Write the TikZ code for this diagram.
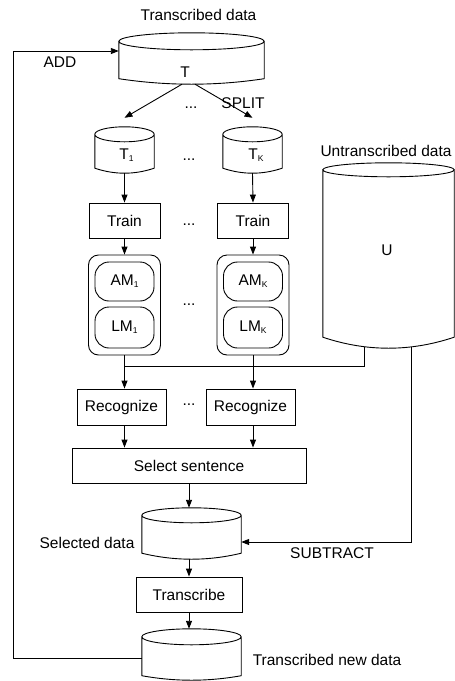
\documentclass[tikz,border=0pt]{standalone}
\usepackage{fontspec}
\setmainfont{Liberation Sans}
\usetikzlibrary{arrows.meta,calc}

% small lowered index, e.g. T_1, AM_K
\newcommand\lowidx[1]{\raisebox{-2.2pt}{\fontsize{8.5}{9}\selectfont #1}}

% outline of a database cylinder drawn over the rectangle node #1:
% #2 = half height of the top ellipse, #3 = rise of the bottom arc corners
\newcommand\dbshape[3]{%
  \draw[wire] let \p1=(#1.north west), \p2=(#1.south east), \n1={(\x2-\x1)/2} in
    (\x1,\y1-#2pt) -- (\x1,\y2+#3pt)
    .. controls ({\x1+\n1*2/3},{\y2-#3pt/3}) and ({\x2-\n1*2/3},{\y2-#3pt/3}) .. (\x2,\y2+#3pt)
    -- (\x2,\y1-#2pt)
    (\x1+\n1,\y1-#2pt) ellipse [x radius=\n1, y radius=#2pt];
}

\tikzset{
  every node/.style={font=\fontsize{15.5}{18}\selectfont},
  wire/.style={line width=0.9pt},
  box/.style={draw, rectangle, inner sep=0pt, line width=0.9pt},
  rbox/.style={draw, rectangle, rounded corners=#1, inner sep=0pt, line width=0.9pt},
  db/.style={rectangle, draw=none, inner sep=0pt},
  arr/.style={-{Triangle[length=8pt,width=6pt]}, line width=0.9pt},
  dots/.style={inner sep=0pt},
}

\begin{document}
\begin{tikzpicture}[x=1pt,y=-1pt]
\useasboundingbox (0,0) rectangle (455,681);

% ---- data stores ----
\node[db, minimum width=145pt, minimum height=51pt] (T)  at (191.5,58.5) {};
\node[db, minimum width=59pt,  minimum height=46pt] (T1) at (124.5,150) {};
\node[db, minimum width=59pt,  minimum height=46pt] (TK) at (252.5,150) {};
\node[db, minimum width=131pt, minimum height=185pt] (U) at (388.5,255.5) {};
\node[db, minimum width=99pt,  minimum height=51pt] (Sel) at (191.5,533.5) {};
\node[db, minimum width=99pt,  minimum height=51pt] (New) at (191.5,654.5) {};

\dbshape{T}{8.5}{5.5}
\dbshape{T1}{7.5}{5}
\dbshape{TK}{7.5}{5}
\dbshape{U}{7}{11}
\dbshape{Sel}{7.5}{6}
\dbshape{New}{8}{4.5}

\node (Tl)  at (185,72) {T};
\node (T1l) at (126.5,155.5) {T\lowidx{1}};
\node (TKl) at (256,155.5) {T\lowidx{K}};
\node (Ul)  at (387,250) {U};

\node (Ttitle) at (198.5,15) {Transcribed data};
\node (Utitle) at (386,151) {Untranscribed data};
\node (Seltitle) at (87,543) {Selected data};
\node (Newtitle) at (327,660) {Transcribed new data};

% ---- processing steps ----
\node[box, minimum width=71pt, minimum height=35pt] (Tr1) at (124.5,220.5) {Train};
\node[box, minimum width=71pt, minimum height=35pt] (TrK) at (253,220.5) {Train};

\node[rbox=10pt, minimum width=72pt, minimum height=100pt] (M1) at (124.5,305) {};
\node[rbox=10pt, minimum width=72pt, minimum height=100pt] (MK) at (253,305) {};
\node[rbox=14pt, minimum width=59pt, minimum height=39pt] (AM1) at (124.5,281.5) {AM\lowidx{1}};
\node[rbox=14pt, minimum width=59pt, minimum height=41pt] (LM1) at (124.5,327.5) {LM\lowidx{1}};
\node[rbox=14pt, minimum width=59pt, minimum height=39pt] (AMK) at (253,281.5) {AM\lowidx{K}};
\node[rbox=14pt, minimum width=59pt, minimum height=41pt] (LMK) at (253,327.5) {LM\lowidx{K}};

\node[box, minimum width=89pt, minimum height=36pt] (Rec1) at (121.5,407) {Recognize};
\node[box, minimum width=89pt, minimum height=36pt] (RecK) at (250.5,407) {Recognize};
\node[box, minimum width=234pt, minimum height=35pt] (Pick) at (189,465.5) {Select sentence};
\node[box, minimum width=106pt, minimum height=35pt] (Trans) at (189,594.5) {Transcribe};

% ---- ellipses between parallel branches ----
\node[dots] (d0) at (191,108) {...};
\node[dots] (d1) at (189,160) {...};
\node[dots] (d2) at (189,225) {...};
\node[dots] (d3) at (189,305) {...};
\node[dots] (d4) at (189,405) {...};

% ---- connectors ----
\draw[arr] ([xshift=-9.5pt]T.south) -- ([yshift=9pt]T1.north);
\draw[arr] ([xshift=3.5pt]T.south) -- ([yshift=9pt]TK.north);
\node (split) at (243,103) {SPLIT};

\draw[arr] (T1.south) -- (Tr1.north);
\draw[arr] (TK.south |- T1.south) -- (TrK.north);
\draw[arr] (Tr1.south) -- (M1.north);
\draw[arr] (TrK.south) -- (MK.north);

\coordinate (ua) at (364,346.5);
\coordinate (ub) at (411,346.5);
\coordinate (jn) at (124.5,366);
\draw[wire] (ua) |- (jn);
\draw[arr] (M1.south) -- (M1.south |- Rec1.north);
\draw[arr] (MK.south) -- (MK.south |- RecK.north);
\draw[arr] (M1.south |- Rec1.south) -- (M1.south |- Pick.north);
\draw[arr] (MK.south |- RecK.south) -- (MK.south |- Pick.north);

\draw[arr] (Pick.south) -- (Pick.south |- Sel.north);
\draw[arr] (Trans.north |- Sel.south) -- (Trans.north);
\draw[arr] (Trans.south) -- (Trans.south |- New.north);

\coordinate (sb) at (411,542);
\draw[arr] (ub) -- (sb) -- (Sel.east |- sb);
\node (subtract) at (332,553) {SUBTRACT};

\coordinate (lb) at (13.5,658);
\coordinate (lt) at (13.5,51);
\draw[arr] (New.west |- lb) -- (lb) -- (lt) -- (T.west |- lt);
\node (add) at (60,62) {ADD};
\end{tikzpicture}
\end{document}
